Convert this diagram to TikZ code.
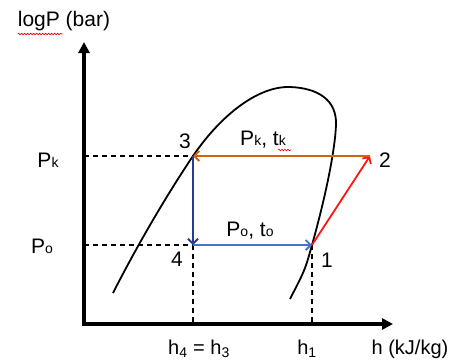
\documentclass[tikz,border=0pt]{standalone}
\usepackage{fontspec}
\setmainfont{Liberation Sans}
\usetikzlibrary{arrows.meta,decorations.pathmorphing}
\definecolor{orangeline}{RGB}{207,102,20}
\definecolor{darkblue}{RGB}{40,60,150}
\definecolor{lightblue}{RGB}{70,115,200}
\definecolor{redline}{RGB}{255,20,20}
\begin{document}
\begin{tikzpicture}[x=1pt,y=-1pt,
  lbl/.style={inner sep=0pt,font=\fontsize{21}{21}\selectfont},
  blbl/.style={inner sep=0pt,anchor=base,font=\fontsize{20}{20}\selectfont},
  axisline/.style={line width=3.5pt,-{Triangle[length=11pt,width=11pt]}},
  guide/.style={line width=1.4pt,dash pattern=on 5pt off 4pt},
  proc/.style={line width=1.8pt,-{Straight Barb[length=5pt,width=10pt]}},
  dome/.style={line width=1.8pt},
  squiggle/.style={red,line width=0.6pt,decorate,decoration={snake,segment length=3pt,amplitude=0.8pt}}]
\useasboundingbox (0,0) rectangle (458,360);
\newcommand{\smk}[1]{{\fontsize{14}{14}\selectfont #1}}
% axes
\coordinate (O) at (84,324);
\coordinate (Ytip) at (84,42);
\coordinate (Xtip) at (393,324);
\draw[axisline] ([yshift=-1.75pt]O) -- (Ytip);
\draw[axisline] (O) -- (Xtip);
% cycle points
\coordinate (P3) at (193,156);
\coordinate (P2) at (370,156);
\coordinate (P4) at (193,245);
\coordinate (P1) at (312,245);
\coordinate (PkA) at (84,156);
\coordinate (PoA) at (84,245);
\coordinate (h3A) at (193,324);
\coordinate (h1A) at (312,324);
% saturation dome
\draw[dome] (113,293) .. controls (140,240) and (170,190) .. (P3)
  .. controls (221,115) and (258,86) .. (290,87)
  .. controls (318,88) and (337,100) .. (336,125)
  .. controls (335,150) and (326,195) .. (P1)
  .. controls (305,270) .. (290,299);
% guides
\draw[guide] (PkA) -- (P3);
\draw[guide] (PoA) -- (P4);
\draw[guide] (P4) -- (h3A);
\draw[guide] (P1) -- (h1A);
% process lines
\draw[proc,redline] (P1) -- (P2);
\draw[proc,orangeline] (P2) -- (P3);
\draw[proc,darkblue] (P3) -- (P4);
\draw[proc,lightblue] (P4) -- (P1);
% labels
\node[lbl] (ylab) at (64,21) {logP (bar)};
\node[blbl] (xlab) at (410,354) {h (kJ/kg)};
\node[lbl] (n3) at (185,141) {3};
\node[lbl] (n2) at (385,160) {2};
\node[lbl] (n4) at (177,259) {4};
\node[lbl] (n1) at (327,260) {1};
\node[lbl] (pkt) at (263,140) {P\smk{k}, t\smk{k}};
\node[lbl] (pot) at (250,231) {P\smk{o}, t\smk{o}};
\node[lbl] (pk) at (48,160) {P\smk{k}};
\node[lbl] (po) at (42,246) {P\smk{o}};
\node[blbl] (h43) at (199,354) {h\textsubscript{4} = h\textsubscript{3}};
\node[blbl] (h1) at (307,354) {h\textsubscript{1}};
% spell-check squiggles
\draw[squiggle] ([yshift=-3pt]ylab.south west) -- ++(45,0);
\draw[squiggle] (278,150) -- (291,150);
\end{tikzpicture}
\end{document}
